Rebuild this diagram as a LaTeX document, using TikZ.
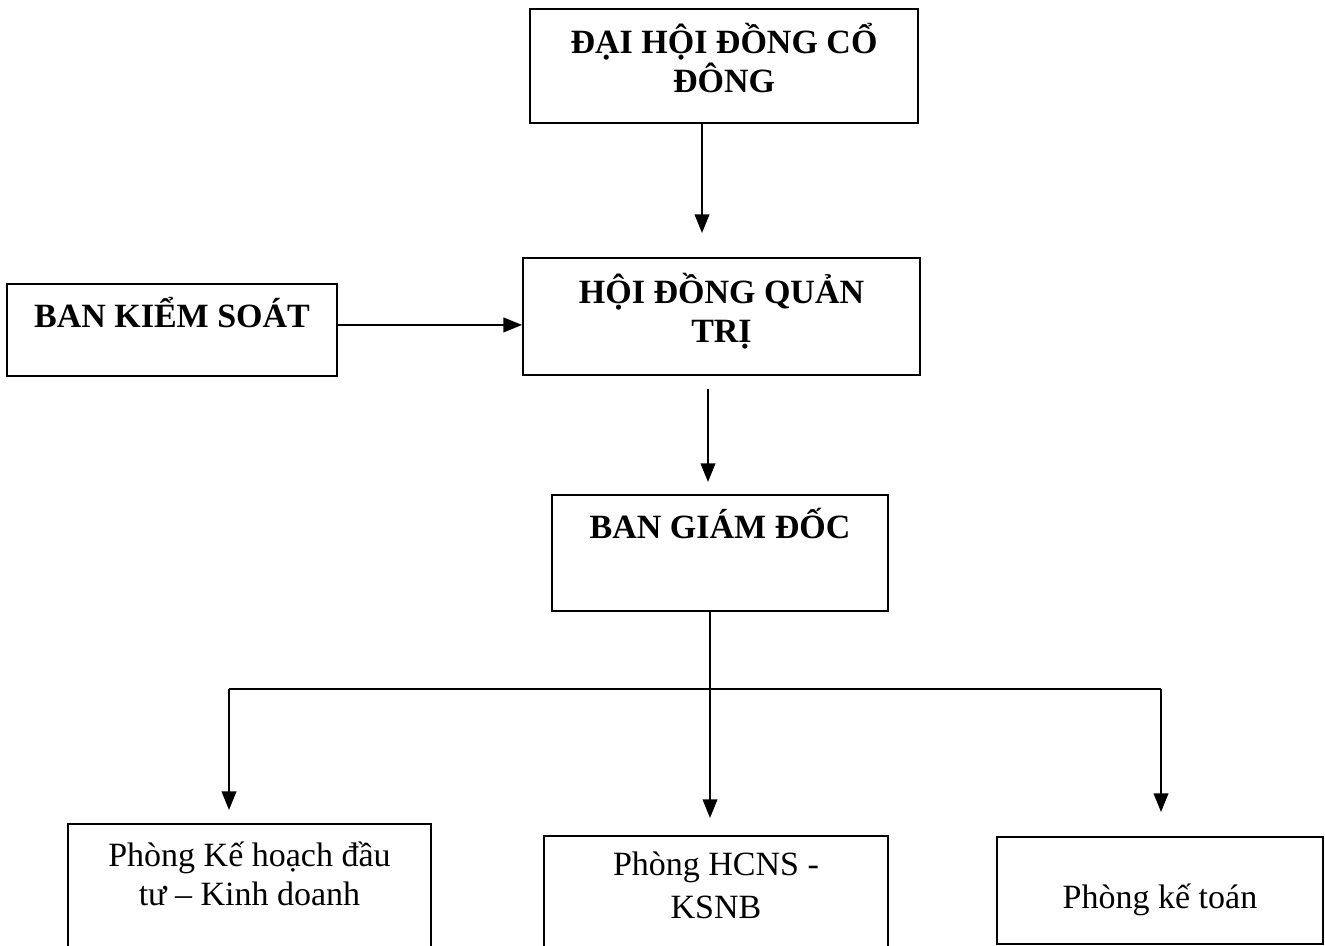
\documentclass[tikz,border=0pt]{standalone}
\usepackage{fontspec}
\setmainfont{Liberation Serif}
\usetikzlibrary{arrows.meta,calc}

\tikzset{every picture/.style={line width=0.75pt}}
\tikzset{
  box/.style={draw, line width=1.4pt, inner sep=0pt, align=center, anchor=north,
    font=\fontsize{25.5pt}{29.5pt}\selectfont},
  headbox/.style={box, font=\fontsize{25.5pt}{29.5pt}\selectfont\bfseries},
  arr/.style={line width=1.3pt, -{Triangle[length=14pt,width=11pt]}}
}

\begin{document}
\begin{tikzpicture}[x=0.75pt,y=0.75pt,yscale=-1,xscale=1]
\clip (0,0) rectangle (1325,946);

%Shape: Rectangle
\node [headbox, minimum width=291pt, text height=63pt, text depth=22.5pt] (dhdcd) at (724,8) {ĐẠI HỘI ĐỒNG CỔ\\ĐÔNG};
%Shape: Rectangle
\node [headbox, minimum width=297.75pt, text height=63.75pt, text depth=24pt] (hdqt) at (721.5,257) {HỘI ĐỒNG QUẢN\\TRỊ};
%Shape: Rectangle
\node [headbox, minimum width=247.5pt, text height=33pt, text depth=36pt] (bks) at (172,283) {BAN KIỂM SOÁT};
%Shape: Rectangle
\node [headbox, minimum width=252pt, text height=33pt, text depth=54pt] (bgd) at (720,494) {BAN GIÁM ĐỐC};
%Shape: Rectangle
\node [box, minimum width=272.25pt, text height=61.5pt, text depth=56.25pt] (pkh) at (249.5,823) {Phòng Kế hoạch đầu\\tư – Kinh doanh};
%Shape: Rectangle
\node [box, minimum width=258pt, text height=62.25pt, text depth=48.75pt,
  font=\fontsize{25.5pt}{32.5pt}\selectfont] (phc) at (716,835) {Phòng HCNS -\\KSNB};
%Shape: Rectangle
\node [box, minimum width=244.5pt, text height=54pt, text depth=26.25pt] (pkt) at (1160,836) {Phòng kế toán};

%Straight Lines
\coordinate (a1) at ($(dhdcd.south)+(-22,0)$);
\draw [arr, shorten >=18pt] (a1) -- (a1 |- hdqt.north);
%Straight Lines
\coordinate (a2) at ($(bks.east)+(0,-5)$);
\draw [arr] (a2) -- (a2 -| hdqt.west);
%Straight Lines
\coordinate (a3) at ($(hdqt.south)+(-13.5,0)$);
\draw [arr, shorten <=9.75pt, shorten >=9pt] (a3) -- (a3 |- bgd.north);

\coordinate (bus) at (710,689);
\coordinate (busL) at (229,689);
\coordinate (busR) at (1161,689);
%Straight Lines
\draw [line width=1.3pt] (bgd.south -| bus) -- (bus);
\draw [line width=1.3pt] (busL) -- (busR);
%Straight Lines
\draw [arr, shorten >=9.75pt] (busL) -- (busL |- pkh.north);
\draw [arr, shorten >=12.75pt] (bus) -- (bus |- phc.north);
\draw [arr, shorten >=18pt] (busR) -- (busR |- pkt.north);

\end{tikzpicture}
\end{document}
